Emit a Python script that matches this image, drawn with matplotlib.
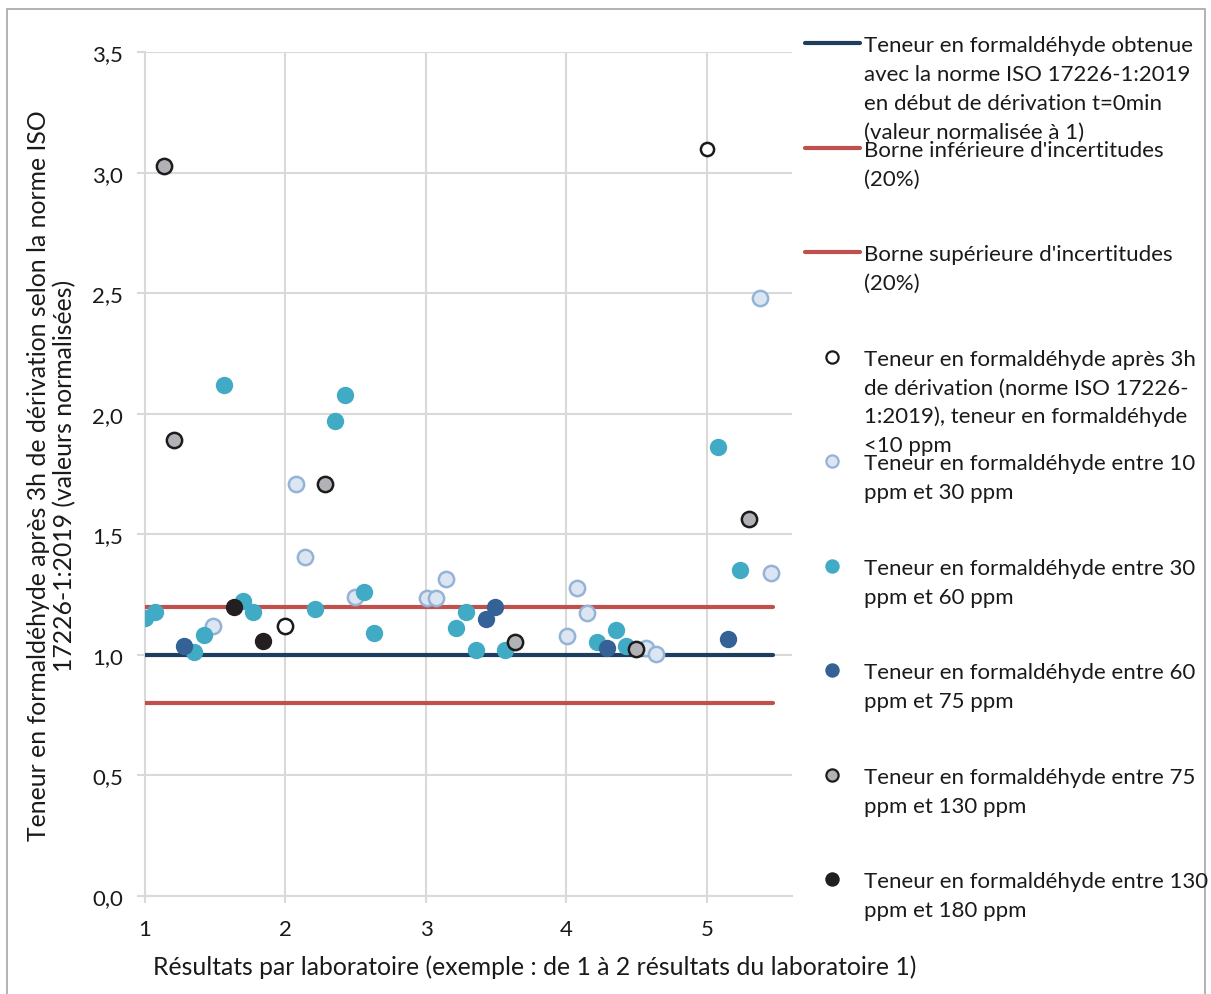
import matplotlib
matplotlib.use("Agg")
import matplotlib.pyplot as plt
from matplotlib.lines import Line2D
from matplotlib.patches import Rectangle

plt.rcParams["font.family"] = ["Lato", "DejaVu Sans"]

W, H = 1211, 995
FS = 16
TITLE_FS = 17.8

# reference lines
ref_x = [1.0, 5.47]
ref_level = [1.0, 1.0]
low_bound = [0.8, 0.8]
high_bound = [1.2, 1.2]

# formaldehyde < 10 ppm
x_lt10 = [1.996, 5.0]
y_lt10 = [1.119, 3.097]

# 10 - 30 ppm
x_10_30 = [1.484, 2.075, 2.139, 2.495, 3.007, 3.071, 3.142, 4.004, 4.075, 4.146, 4.566, 4.637, 5.38, 5.455]
y_10_30 = [1.119, 1.708, 1.405, 1.240, 1.236, 1.236, 1.315, 1.078, 1.277, 1.173, 1.029, 1.004, 2.479, 1.341]

# 30 - 60 ppm
x_30_60 = [1.000, 1.071, 1.349, 1.420, 1.562, 1.698, 1.769, 2.210, 2.352, 2.423, 2.559,
           2.630, 3.214, 3.285, 3.356, 3.562, 4.217, 4.352, 4.423, 5.075, 5.232]
y_30_60 = [1.152, 1.177, 1.011, 1.082, 2.119, 1.223, 1.177, 1.190, 1.969, 2.077, 1.260,
           1.090, 1.111, 1.177, 1.020, 1.020, 1.053, 1.103, 1.036, 1.862, 1.353]

# 60 - 75 ppm
x_60_75 = [1.278, 3.427, 3.491, 4.288, 5.15]
y_60_75 = [1.036, 1.148, 1.198, 1.029, 1.067]

# 75 - 130 ppm
x_75_130 = [1.135, 1.206, 2.281, 3.633, 4.495, 5.30]
y_75_130 = [3.030, 1.891, 1.710, 1.053, 1.024, 1.563]

# 130 - 180 ppm
x_130_180 = [1.633, 1.840]
y_130_180 = [1.198, 1.057]

y_ticks = [0.0, 0.5, 1.0, 1.5, 2.0, 2.5, 3.0, 3.5]
y_ticklabels = ["0,0", "0,5", "1,0", "1,5", "2,0", "2,5", "3,0", "3,5"]
x_ticks = [1, 2, 3, 4, 5]

legend_labels = [
    "Teneur en formaldéhyde obtenue\navec la norme ISO 17226-1:2019\nen début de dérivation t=0min\n(valeur normalisée à 1)",
    "Borne inférieure d'incertitudes\n(20%)",
    "Borne supérieure d'incertitudes\n(20%)",
    "Teneur en formaldéhyde après 3h\nde dérivation (norme ISO 17226-\n1:2019), teneur en formaldéhyde\n<10 ppm",
    "Teneur en formaldéhyde entre 10\nppm et 30 ppm",
    "Teneur en formaldéhyde entre 30\nppm et 60 ppm",
    "Teneur en formaldéhyde entre 60\nppm et 75 ppm",
    "Teneur en formaldéhyde entre 75\nppm et 130 ppm",
    "Teneur en formaldéhyde entre 130\nppm et 180 ppm",
]

NAVY = "#1f3d5c"
RED = "#c0504d"
GRID = "#d9d9d9"

styles = [
    dict(kind="line", color=NAVY),
    dict(kind="line", color=RED),
    dict(kind="line", color=RED),
    dict(kind="mark", mfc="white", mec="#1a1a1a", mew=1.6, ms=8.8),
    dict(kind="mark", mfc="#dce6f2", mec="#95b3d7", mew=1.6, ms=8.8),
    dict(kind="mark", mfc="#41abc5", mec="#41abc5", mew=0, ms=10.4),
    dict(kind="mark", mfc="#356296", mec="#356296", mew=0, ms=10.4),
    dict(kind="mark", mfc="#b1b2b5", mec="#1c1c1c", mew=1.6, ms=8.8),
    dict(kind="mark", mfc="#231f20", mec="#231f20", mew=0, ms=10.4),
]


def px(x, y):
    return x / W, 1 - y / H


fig = plt.figure(figsize=(W / 100, H / 100), dpi=100)
ax = fig.add_axes([145 / W, 1 - 896.7 / H, (792 - 145) / W, (896.7 - 53.3) / H])

ax.plot(ref_x, ref_level, color=NAVY, lw=3, solid_capstyle="round", zorder=3)
ax.plot(ref_x, low_bound, color=RED, lw=3, solid_capstyle="round", zorder=3)
ax.plot(ref_x, high_bound, color=RED, lw=3, solid_capstyle="round", zorder=3)

ax.plot(x_lt10[:1], y_lt10[:1], "o", ms=11, mfc="white", mec="#1a1a1a", mew=1.8, zorder=4)
ax.plot(x_lt10[1:], y_lt10[1:], "o", ms=9.5, mfc="white", mec="#1a1a1a", mew=1.8, zorder=4)
ax.plot(x_10_30, y_10_30, "o", ms=11, mfc="#dce6f2", mec="#95b3d7", mew=1.8, zorder=5)
ax.plot(x_30_60, y_30_60, "o", ms=12.5, mfc="#41abc5", mec="#41abc5", mew=0, zorder=6)
ax.plot(x_60_75, y_60_75, "o", ms=12.5, mfc="#356296", mec="#356296", mew=0, zorder=7)
ax.plot(x_75_130, y_75_130, "o", ms=11, mfc="#b1b2b5", mec="#1c1c1c", mew=1.8, zorder=8)
ax.plot(x_130_180, y_130_180, "o", ms=12.5, mfc="#231f20", mec="#231f20", mew=0, zorder=9)

ax.set_xlim(1, 5.605)
ax.set_ylim(0, 3.5)
ax.set_yticks(y_ticks)
ax.set_yticklabels(y_ticklabels)
ax.set_xticks(x_ticks)
ax.grid(True, color=GRID, lw=1.5, zorder=0)
ax.set_axisbelow(True)
for side in ["top", "right"]:
    ax.spines[side].set_visible(False)
for side in ["left", "bottom"]:
    ax.spines[side].set_color(GRID)
    ax.spines[side].set_linewidth(1.5)
ax.tick_params(axis="y", length=6, width=1.5, color=GRID, pad=10, labelsize=FS, labelcolor="#1a1a1a")
ax.tick_params(axis="x", length=5, width=1.5, color=GRID, pad=12, labelsize=FS, labelcolor="#1a1a1a")

fig.text(*px(51.5, 476),
         "Teneur en formaldéhyde après 3h de dérivation selon la norme ISO\n17226-1:2019 (valeurs normalisées)",
         rotation=90, ha="center", va="center", multialignment="center",
         fontsize=TITLE_FS, color="#1a1a1a", linespacing=1.17)
fig.text(*px(535, 967),
         "Résultats par laboratoire (exemple : de 1 à 2 résultats du laboratoire 1)",
         ha="center", va="center", fontsize=TITLE_FS, color="#1a1a1a")

# legend drawn by hand so the handle sits on the first text line
for k, (label, st) in enumerate(zip(legend_labels, styles)):
    y0 = 44 + 104.5 * k
    if st["kind"] == "line":
        xs = [805 / W, 860 / W]
        ys = [1 - y0 / H] * 2
        fig.add_artist(Line2D(xs, ys, color=st["color"], lw=3, solid_capstyle="round"))
    else:
        fig.add_artist(Line2D([832 / W], [1 - y0 / H], marker="o", ls="none",
                              ms=st["ms"], mfc=st["mfc"], mec=st["mec"], mew=st["mew"]))
    for j, line in enumerate(label.split("\n")):
        fig.text(*px(864, y0 + 8.5 + 28.7 * j), line, ha="left", va="baseline",
                 fontsize=FS, color="#1a1a1a")

fig.add_artist(Rectangle((7 / W, -0.01), (1205 - 7) / W, 1.01 - 10 / H,
                         transform=fig.transFigure, fill=False, ec="#a6a6a6", lw=1.2))

fig.savefig("out.png", dpi=100)
